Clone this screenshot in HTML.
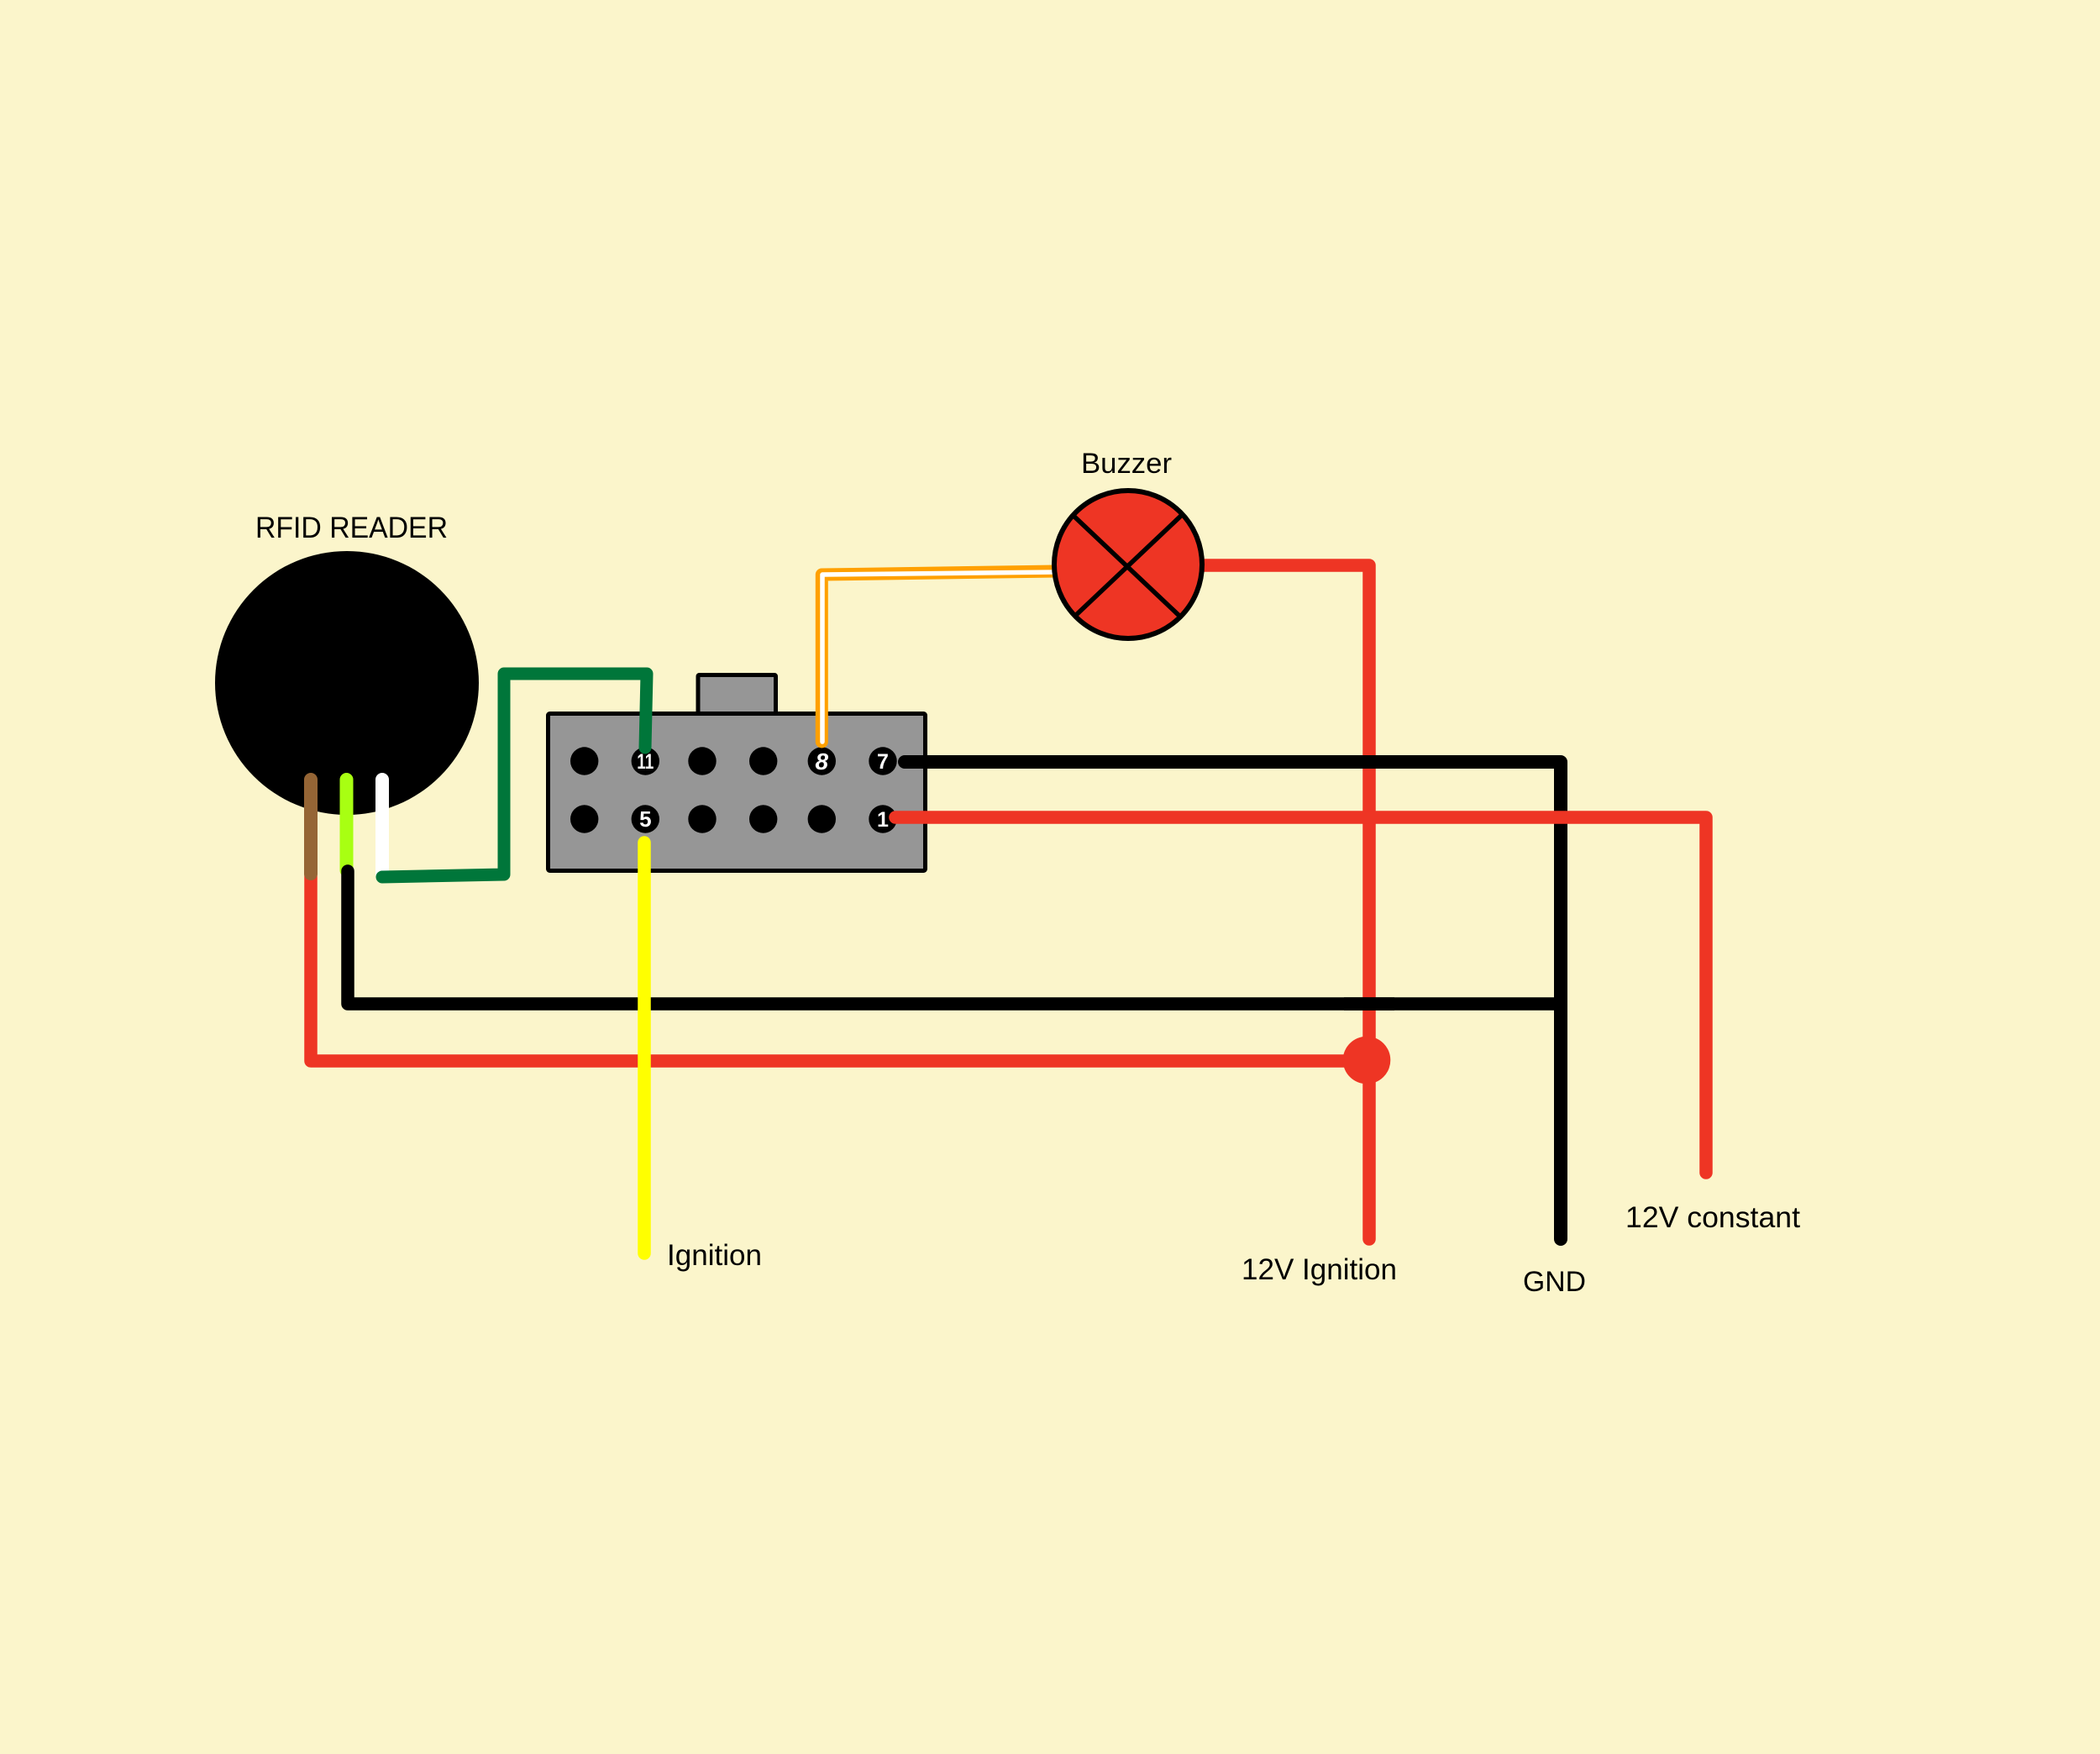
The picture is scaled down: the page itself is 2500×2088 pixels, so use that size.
<!DOCTYPE html>
<html>
<head>
<meta charset="utf-8">
<style>
  html, body { margin: 0; padding: 0; background: #fbf5cb; }
  body { width: 2500px; height: 2088px; overflow: hidden; }
  svg { display: block; }
  text { font-family: "Liberation Sans", Arial, sans-serif; fill: #000; }
  .pin { font-family: "Liberation Sans", Arial, sans-serif; font-weight: bold; fill: #fff; }
</style>
</head>
<body>
<svg width="2500" height="2088" viewBox="0 0 2500 2088" xmlns="http://www.w3.org/2000/svg">
  <rect x="0" y="0" width="2500" height="2088" fill="#fbf5cb"/>

  <!-- Labels -->
  <text x="304" y="640" font-size="35" textLength="229" lengthAdjust="spacingAndGlyphs">RFID READER</text>
  <text x="1287" y="563" font-size="34.5" textLength="108" lengthAdjust="spacingAndGlyphs">Buzzer</text>
  <text x="794" y="1506" font-size="35" textLength="113" lengthAdjust="spacingAndGlyphs">Ignition</text>
  <text x="1478" y="1523" font-size="35" textLength="185" lengthAdjust="spacingAndGlyphs">12V Ignition</text>
  <text x="1813" y="1537" font-size="34.5" textLength="75" lengthAdjust="spacingAndGlyphs">GND</text>
  <text x="1935" y="1461" font-size="35.5" textLength="208" lengthAdjust="spacingAndGlyphs">12V constant</text>

  <!-- RFID reader -->
  <circle cx="413" cy="813" r="157" fill="#000"/>

  <!-- Red 12V ignition from buzzer -->
  <polyline points="1434,673 1630,673 1630,1475" fill="none" stroke="#ee3524" stroke-width="15.5" stroke-linecap="round" stroke-linejoin="round"/>

  <!-- Red from RFID (brown continuation) -->
  <polyline points="370,1040 370,1263 1627,1263" fill="none" stroke="#ee3524" stroke-width="15.5" stroke-linecap="round" stroke-linejoin="round"/>
  <circle cx="1627" cy="1262" r="28.3" fill="#ee3524"/>

  <!-- RFID wires -->
  <line x1="370" y1="928" x2="370" y2="1040" stroke="#956535" stroke-width="16" stroke-linecap="round"/>
  <line x1="412.5" y1="928" x2="412.5" y2="1036" stroke="#a8ff12" stroke-width="16" stroke-linecap="round"/>
  <line x1="455" y1="928" x2="455" y2="1040" stroke="#ffffff" stroke-width="16" stroke-linecap="round"/>

  <!-- Black from RFID to GND -->
  <polyline points="414,1037 414,1195 1858,1195" fill="none" stroke="#000" stroke-width="15.5" stroke-linecap="round" stroke-linejoin="round"/>

  <!-- Connector -->
  <rect x="831" y="803.5" width="92.5" height="46" fill="#969696" stroke="#000" stroke-width="5" rx="1.5"/>
  <rect x="652.5" y="849.5" width="449" height="187" fill="#969696" stroke="#000" stroke-width="5" rx="2"/>

  <!-- Pins -->
  <g fill="#000">
    <circle cx="695.7" cy="906" r="16.7"/>
    <circle cx="768.3" cy="906" r="16.7"/>
    <circle cx="836" cy="906" r="16.7"/>
    <circle cx="908.7" cy="906" r="16.7"/>
    <circle cx="978.3" cy="906" r="16.7"/>
    <circle cx="1051" cy="906" r="16.7"/>
    <circle cx="695.7" cy="975" r="16.7"/>
    <circle cx="768.3" cy="975" r="16.7"/>
    <circle cx="836" cy="975" r="16.7"/>
    <circle cx="908.7" cy="975" r="16.7"/>
    <circle cx="978.3" cy="975" r="16.7"/>
    <circle cx="1051" cy="975" r="16.7"/>
  </g>

  <!-- Green wire (drawn over connector) -->
  <polyline points="455,1044 600,1041 600,802 770,802 768,890" fill="none" stroke="#00763a" stroke-width="15" stroke-linecap="round" stroke-linejoin="round"/>

  <g text-anchor="middle">
    <text x="768.3" y="915" class="pin" font-size="25" textLength="20" lengthAdjust="spacingAndGlyphs">11</text>
    <text x="978.3" y="916" class="pin" font-size="28" font-style="italic">8</text>
    <text x="1051" y="915" class="pin" font-size="25">7</text>
    <text x="768.3" y="984" class="pin" font-size="26">5</text>
    <text x="1051" y="984" class="pin" font-size="25">1</text>
  </g>

  <!-- Black from pin 7 to GND -->
  <polyline points="1077,907 1858,907 1858,1475" fill="none" stroke="#000" stroke-width="16" stroke-linecap="round" stroke-linejoin="round"/>

  <!-- Red from pin 1 to 12V constant -->
  <polyline points="1066,973 2031,973 2031,1396" fill="none" stroke="#ee3524" stroke-width="15.5" stroke-linecap="round" stroke-linejoin="round"/>

  <!-- Black RFID horizontal crossing on top of red vertical -->
  <line x1="1600" y1="1195" x2="1660" y2="1195" stroke="#000" stroke-width="15.5"/>

  <!-- Yellow ignition -->
  <line x1="767" y1="1003" x2="767" y2="1492" stroke="#ffff00" stroke-width="15.5" stroke-linecap="round"/>

  <!-- Orange wire to buzzer -->
  <polyline points="978.3,883 978.3,684 1258,680" fill="none" stroke="#ffa000" stroke-width="15" stroke-linecap="round" stroke-linejoin="round"/>
  <polyline points="979,883 979,684 1258,681" fill="none" stroke="#ffffff" stroke-width="5.5" stroke-linecap="round" stroke-linejoin="round"/>

  <!-- Buzzer -->
  <circle cx="1343" cy="672" r="88" fill="#ee3524" stroke="#000" stroke-width="6"/>
  <line x1="1278" y1="614" x2="1405" y2="734" stroke="#000" stroke-width="5.5"/>
  <line x1="1407" y1="613" x2="1279" y2="734" stroke="#000" stroke-width="5.5"/>
</svg>
</body>
</html>
